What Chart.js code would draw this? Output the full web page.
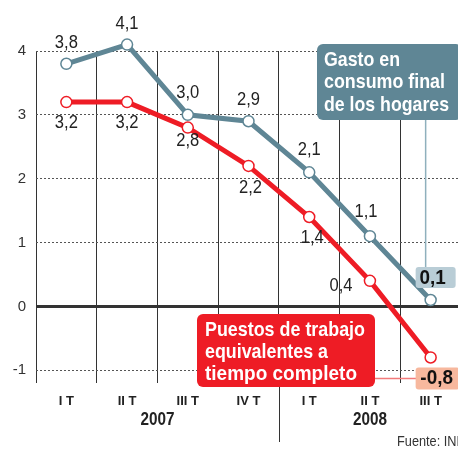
<!DOCTYPE html>
<html>
<head>
<meta charset="utf-8">
<script src="https://cdn.jsdelivr.net/npm/chart.js@4"></script>
<style>
html, body { margin: 0; padding: 0; background: #fff; overflow: hidden; }
</style>
</head>
<body>
<canvas id="chart" width="468" height="449"></canvas>
<script>
// Datos
const quarters = ['I T', 'II T', 'III T', 'IV T', 'I T', 'II T', 'III T'];
const years = ['2007', '2008'];
const gasto = [3.8, 4.1, 3.0, 2.9, 2.1, 1.1, 0.1];
const puestos = [3.2, 3.2, 2.8, 2.2, 1.4, 0.4, -0.8];
const yTicks = [4, 3, 2, 1, 0, -1];

const FONT = '"Liberation Sans", Arial, sans-serif';
const GRAY = '#5f8695';
const RED = '#ee1c25';

const fmt = v => v.toFixed(1).replace('.', ',');

function roundRect(ctx, x, y, w, h, r) {
    ctx.beginPath();
    ctx.moveTo(x + r, y);
    ctx.arcTo(x + w, y, x + w, y + h, r);
    ctx.arcTo(x + w, y + h, x, y + h, r);
    ctx.arcTo(x, y + h, x, y, r);
    ctx.arcTo(x, y, x + w, y, r);
    ctx.closePath();
}

// texto estrechado (la fuente original es condensada)
function narrow(ctx, text, x, y, sx) {
    ctx.save();
    ctx.translate(x, y);
    ctx.scale(sx, 1);
    ctx.fillText(text, 0, 0);
    ctx.restore();
}

// Etiquetas, cajas y líneas extra
const overlay = {
    id: 'overlay',
    beforeDatasetsDraw(chart) {
        const { ctx, chartArea, scales: { x, y } } = chart;
        ctx.save();
        // línea del cero
        const y0 = y.getPixelForValue(0);
        ctx.strokeStyle = '#333';
        ctx.lineWidth = 3;
        ctx.beginPath();
        ctx.moveTo(chartArea.left, y0);
        ctx.lineTo(chartArea.right, y0);
        ctx.stroke();
        // separador de años
        const xd = Math.round((x.getPixelForValue(3) + x.getPixelForValue(4)) / 2) + 0.5;
        ctx.lineWidth = 1;
        ctx.beginPath();
        ctx.moveTo(xd, chartArea.bottom);
        ctx.lineTo(xd, chartArea.bottom + 59);
        ctx.stroke();
        // líneas guía
        const g = chart.getDatasetMeta(0).data[6];
        const r = chart.getDatasetMeta(1).data[6];
        ctx.strokeStyle = '#8fb0bd';
        ctx.lineWidth = 1.5;
        ctx.beginPath();
        ctx.moveTo(g.x - 5, 119);
        ctx.lineTo(g.x - 5, g.y - 32);
        ctx.stroke();
        ctx.strokeStyle = '#f27a7a';
        ctx.beginPath();
        ctx.moveTo(370, r.y + 21);
        ctx.lineTo(r.x - 12, r.y + 21);
        ctx.stroke();
        ctx.restore();
    },
    afterDatasetsDraw(chart) {
        const { ctx, scales: { x } } = chart;
        const gm = chart.getDatasetMeta(0).data;
        const rm = chart.getDatasetMeta(1).data;
        ctx.save();
        ctx.textAlign = 'center';
        ctx.textBaseline = 'middle';
        ctx.fillStyle = '#222';
        ctx.font = '18px ' + FONT;

        // gris: encima
        const gOff = [[0, -21], [0, -21], [0, -22], [0, -21], [0, -22], [-4, -24]];
        gOff.forEach((o, i) => {
            narrow(ctx, fmt(gasto[i]), gm[i].x + o[0], gm[i].y + o[1], 0.92);
        });
        // rojo: debajo
        const rOff = [[0, 21], [0, 21], [0, 13], [2, 22], [3, 21], [-29, 5]];
        rOff.forEach((o, i) => {
            narrow(ctx, fmt(puestos[i]), rm[i].x + o[0], rm[i].y + o[1], 0.92);
        });

        // cajas de los últimos valores
        const g = gm[6], r = rm[6];
        ctx.font = 'bold 21px ' + FONT;
        ctx.fillStyle = '#b9cdd6';
        roundRect(ctx, g.x - 15, g.y - 33, 40, 21, 3);
        ctx.fill();
        ctx.fillStyle = '#111';
        narrow(ctx, fmt(gasto[6]), g.x + 2, g.y - 22, 0.9);

        ctx.fillStyle = '#f7b89e';
        roundRect(ctx, r.x - 15, r.y + 10, 44, 22, 3);
        ctx.fill();
        ctx.fillStyle = '#111';
        narrow(ctx, fmt(puestos[6]), r.x + 6, r.y + 21, 0.9);

        // leyenda gris
        ctx.fillStyle = GRAY;
        roundRect(ctx, 317, 44, 145, 76, 6);
        ctx.fill();
        ctx.fillStyle = '#fff';
        ctx.textAlign = 'left';
        ctx.font = 'bold 21px ' + FONT;
        [['Gasto en', 76], ['consumo final', 121], ['de los hogares', 125]].forEach((t, i) => {
            ctx.fillText(t[0], 324, 60 + i * 22.5, t[1]);
        });

        // leyenda roja
        ctx.fillStyle = RED;
        roundRect(ctx, 197, 314, 178, 73, 6);
        ctx.fill();
        ctx.fillStyle = '#fff';
        [['Puestos de trabajo', 160], ['equivalentes a', 123], ['tiempo completo', 152]].forEach((t, i) => {
            ctx.fillText(t[0], 205, 330 + i * 22, t[1]);
        });

        // años
        ctx.textAlign = 'center';
        ctx.fillStyle = '#222';
        ctx.font = 'bold 18px ' + FONT;
        narrow(ctx, years[0], (x.getPixelForValue(0) + x.getPixelForValue(3)) / 2, 420, 0.85);
        narrow(ctx, years[1], (x.getPixelForValue(4) + x.getPixelForValue(6)) / 2, 420, 0.85);

        // fuente
        ctx.textAlign = 'left';
        ctx.font = '15px ' + FONT;
        ctx.fillStyle = '#333';
        narrow(ctx, 'Fuente: INE', 397, 442, 0.85);
        ctx.restore();
    }
};

new Chart(document.getElementById('chart'), {
    type: 'line',
    data: {
        labels: quarters,
        datasets: [
            {
                label: 'Gasto en consumo final de los hogares',
                data: gasto,
                borderColor: GRAY,
                borderWidth: 5,
                pointRadius: 5.5,
                pointBorderWidth: 1.5,
                pointBackgroundColor: '#fff',
                pointBorderColor: GRAY,
                tension: 0,
                clip: false
            },
            {
                label: 'Puestos de trabajo equivalentes a tiempo completo',
                data: puestos,
                borderColor: RED,
                borderWidth: 5,
                pointRadius: 5.5,
                pointBorderWidth: 1.5,
                pointBackgroundColor: '#fff',
                pointBorderColor: RED,
                tension: 0,
                clip: false
            }
        ]
    },
    options: {
        responsive: false,
        animation: false,
        layout: { padding: { left: 0, top: 51, right: 0, bottom: 0 } },
        plugins: {
            legend: { display: false },
            tooltip: { enabled: false }
        },
        scales: {
            x: {
                offset: true,
                grid: { offset: true, color: '#333', lineWidth: 1, drawTicks: false },
                border: { display: false },
                ticks: {
                    color: '#222',
                    padding: 11,
                    maxRotation: 0,
                    font: { family: FONT, size: 13, weight: 'bold' }
                },
                afterFit: s => { s.height = 66; }
            },
            y: {
                min: -1.2,
                max: 4,
                afterBuildTicks: s => { s.ticks = yTicks.map(v => ({ value: v })); },
                afterFit: s => { s.width = 36; },
                grid: {
                    drawTicks: false,
                    color: c => (c.tick && c.tick.value === 0) ? 'rgba(0,0,0,0)' : '#555',
                    lineWidth: 1
                },
                border: { display: false, dash: [2, 2] },
                ticks: {
                    color: '#333',
                    padding: 10,
                    font: { family: FONT, size: 15 }
                }
            }
        }
    },
    plugins: [overlay]
});
</script>
</body>
</html>
